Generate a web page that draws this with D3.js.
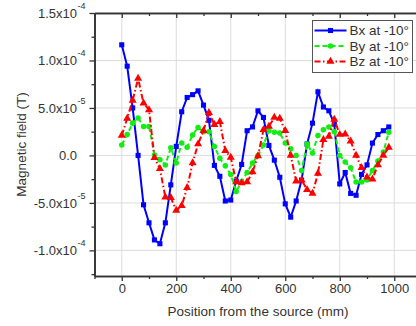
<!DOCTYPE html>
<meta charset="utf-8">
<body style="margin:0;background:#ffffff">
<svg width="416" height="326"></svg>
<script src="https://cdn.jsdelivr.net/npm/d3@7"></script>
<script>
  // positions along the line (mm)
  var positions = [0, 20, 40, 60, 80, 100, 120, 140, 160, 180,
    200, 220, 240, 260, 280, 300, 320, 340, 360, 380,
    400, 420, 440, 460, 480, 500, 520, 540, 560, 580,
    600, 620, 640, 660, 680, 700, 720, 740, 760, 780,
    800, 820, 840, 860, 880, 900, 920, 940, 960, 980]

  // field values in units of 1e-5 T
  var bx = [11.65, 9.4, 5.0, 0.0, -5.2, -7.1, -8.9, -9.3, -7.1, -3.1,
    0.95, 4.6, 6.1, 6.4, 6.8, 5.3, 3.7, -1.05, -2.2, -4.8,
    -4.7, -2.7, -0.95, 2.6, 3.0, 4.7, 4.0, 1.05, -0.5, -2.3,
    -5.1, -6.5, -4.8, -2.6, 1.2, 3.4, 6.7, 5.1, 4.7, 3.3,
    -3.0, -1.8, -4.0, -4.2, -2.0, -1.0, 1.3, 2.2, 2.6, 3.0]
  var by = [1.1, 2.2, 3.4, 3.95, 3.05, 3.05, 0.05, -0.45, -1.0, 0.8,
    -0.8, 1.3, 0.85, 2.15, 2.95, 2.5, 2.5, 0.95, -0.3, -1.1,
    -2.0, -3.8, -2.75, -1.8, -0.8, 0.0, 1.1, 2.6, 2.45, 2.35,
    1.3, 0.7, 0.0, -1.6, 1.2, 0.25, 2.1, 2.7, 3.0, 2.5,
    0.0, -0.7, -1.3, -2.8, -2.8, -2.6, -1.6, -0.6, 0.35, 2.45]
  var bz = [2.1, 3.9, 5.8, 8.1, 5.5, 4.8, -0.25, -1.4, -4.4, -4.45,
    -5.8, -5.3, -3.4, -0.8, 1.2, 2.6, 4.5, 3.25, 3.55, 0.5,
    -0.2, -2.8, -2.9, -2.8, -1.75, -0.05, 2.7, 3.05, 4.0, 3.9,
    2.6, 0.0, -2.7, -2.6, -3.6, -4.0, -1.9, 1.65, 2.0, 3.8,
    2.2, 2.25, 1.5, 0.0, -1.3, -2.3, -2.5, -1.0, 0.0, 0.85]

  var seriesNames = ['Bx at -10\u00b0', 'By at -10\u00b0', 'Bz at -10\u00b0']

  var xTicks = [0, 200, 400, 600, 800, 1000]
  var xMinorTicks = [-100, 100, 300, 500, 700, 900, 1100]
  var yTicks = [15, 10, 5, 0, -5, -10]
  var yMinorTicks = [12.5, 7.5, 2.5, -2.5, -7.5, -12.5]
  var yTickMantissa = ['1.5x10', '1.0x10', '5.0x10', '0.0', '-5.0x10', '-1.0x10']
  var yTickExponent = ['-4', '-4', '-5', '', '-5', '-4']

  var svg = d3.select('svg')
  var font = 'Arial, "Liberation Sans", sans-serif'
  var axisColor = '#333333'

  var pLeft = 94.5, pRight = 421.5, pTop = 13, pBottom = 276
  var x = d3.scaleLinear().domain([-100, 1100]).range([pLeft, pRight])
  var y = d3.scaleLinear().domain([-12.7, 15]).range([pBottom, pTop])

  // grid
  var grid = svg.append('g').attr('stroke', '#dcdcdc').attr('stroke-width', 1)
  grid.selectAll('.gx').data(xTicks).enter().append('line')
    .attr('x1', function(d) { return x(d) }).attr('x2', function(d) { return x(d) })
    .attr('y1', pTop).attr('y2', pBottom)
  grid.selectAll('.gy').data(yTicks).enter().append('line')
    .attr('x1', pLeft).attr('x2', pRight)
    .attr('y1', function(d) { return y(d) }).attr('y2', function(d) { return y(d) })

  // axes
  var xAxis = svg.append('g').attr('transform', 'translate(0,' + pBottom + ')')
    .call(d3.axisBottom(x).tickValues(xTicks).tickSize(5).tickSizeOuter(0).tickPadding(3)
      .tickFormat(d3.format('d')))
  svg.append('g').attr('transform', 'translate(0,' + pBottom + ')')
    .call(d3.axisBottom(x).tickValues(xMinorTicks).tickSize(3).tickSizeOuter(0).tickFormat(''))
  svg.append('g').attr('transform', 'translate(0,' + pTop + ')')
    .call(d3.axisBottom(x).tickValues(xTicks).tickSize(5).tickSizeOuter(0).tickFormat(''))
  svg.append('g').attr('transform', 'translate(0,' + pTop + ')')
    .call(d3.axisBottom(x).tickValues(xMinorTicks).tickSize(3).tickSizeOuter(0).tickFormat(''))
  svg.append('g').attr('transform', 'translate(' + pLeft + ',0)')
    .call(d3.axisLeft(y).tickValues(yTicks).tickSize(5).tickSizeOuter(0).tickFormat(''))
  svg.append('g').attr('transform', 'translate(' + pLeft + ',0)')
    .call(d3.axisLeft(y).tickValues(yMinorTicks).tickSize(3).tickSizeOuter(0).tickFormat(''))

  svg.selectAll('.domain, .tick line').attr('stroke', axisColor).attr('stroke-width', 1.3)
  xAxis.selectAll('text').attr('font-family', font).attr('font-size', 13).attr('fill', axisColor)
  svg.selectAll('.domain').attr('stroke-width', 1.6)

  // y tick labels with superscripts
  var yl = svg.append('g').attr('font-family', font).attr('fill', axisColor)
  yTicks.forEach(function(t, i) {
    yl.append('text').attr('x', 77).attr('y', y(t)).attr('dy', '0.36em')
      .attr('text-anchor', 'end').attr('font-size', 13).text(yTickMantissa[i])
    yl.append('text').attr('x', 77.5).attr('y', y(t) - 4).attr('font-size', 9)
      .text(yTickExponent[i])
  })

  // axis titles
  svg.append('text').attr('x', (pLeft + pRight) / 2).attr('y', 316)
    .attr('text-anchor', 'middle').attr('font-family', font).attr('font-size', 13.5)
    .attr('fill', axisColor).text('Position from the source (mm)')
  svg.append('text').attr('transform', 'translate(26,' + ((pTop + pBottom) / 2) + ') rotate(-90)')
    .attr('text-anchor', 'middle').attr('font-family', font).attr('font-size', 13.5)
    .attr('fill', axisColor).text('Magnetic field (T)')

  var styles = [
    { color: '#0000ff', dash: null, marker: d3.symbolSquare, size: 26 },
    { color: '#11ee11', dash: '5,3', marker: d3.symbolCircle, size: 24 },
    { color: '#ff0000', dash: '6,2.5,1.5,2.5', marker: d3.symbolTriangle, size: 28 }
  ]
  var allSeries = [bx, by, bz]

  var plot = svg.append('g')
  var line = d3.line()
    .x(function(d, i) { return x(positions[i]) })
    .y(function(d) { return y(d) })

  allSeries.forEach(function(values, s) {
    var st = styles[s]
    plot.append('path').datum(values)
      .attr('d', line).attr('fill', 'none')
      .attr('stroke', st.color).attr('stroke-width', 2)
      .attr('stroke-dasharray', st.dash)
    plot.selectAll('.m' + s).data(values).enter().append('path')
      .attr('class', 'm' + s)
      .attr('d', d3.symbol().type(st.marker).size(st.size))
      .attr('transform', function(d, i) { return 'translate(' + x(positions[i]) + ',' + y(d) + ')' })
      .attr('fill', st.color)
  })

  // legend
  var legend = svg.append('g').attr('transform', 'translate(312.5,20.5)')
  legend.append('rect').attr('width', 100).attr('height', 52)
    .attr('fill', '#ffffff').attr('stroke', '#555555').attr('stroke-width', 1)
  seriesNames.forEach(function(name, s) {
    var st = styles[s]
    var ly = 10 + s * 15.5
    legend.append('line').attr('x1', 2).attr('x2', 34).attr('y1', ly).attr('y2', ly)
      .attr('stroke', st.color).attr('stroke-width', 2)
      .attr('stroke-dasharray', st.dash)
    legend.append('path').attr('d', d3.symbol().type(st.marker).size(st.size))
      .attr('transform', 'translate(18,' + ly + ')').attr('fill', st.color)
    legend.append('text').attr('x', 37).attr('y', ly).attr('dy', '0.36em')
      .attr('font-family', font).attr('font-size', 13.5).attr('fill', axisColor)
      .text(name)
  })
</script>
